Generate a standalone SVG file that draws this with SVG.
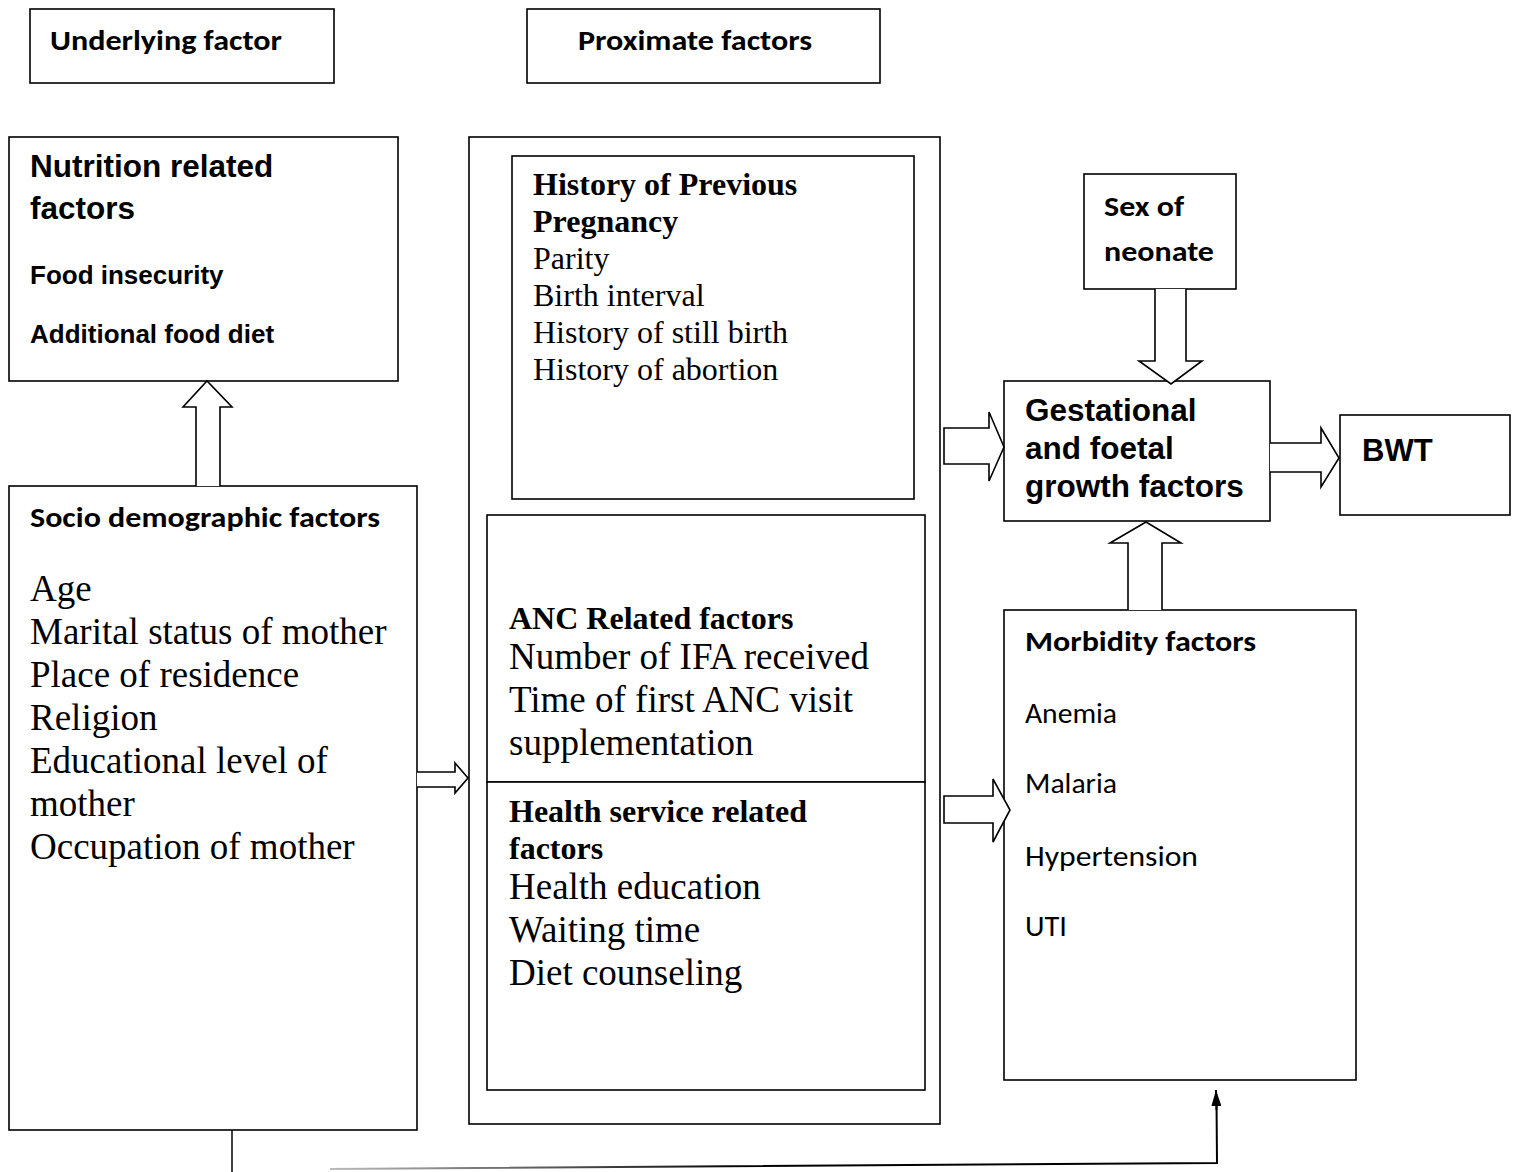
<svg xmlns="http://www.w3.org/2000/svg" width="1518" height="1172" viewBox="0 0 1518 1172">
<style>
.box{fill:#fff;stroke:#000;stroke-width:1.6}
.arr{fill:#fff;stroke:#000;stroke-width:1.6;stroke-linejoin:miter}
.cal{font-family:Carlito,Lato,"Open Sans",sans-serif;font-weight:bold;font-size:29px;fill:#000}
.calr{font-family:Carlito,Lato,"Open Sans",sans-serif;font-size:29px;fill:#000}
.ar{font-family:"Liberation Sans",Arial,sans-serif;font-weight:bold;fill:#000}
.tb{font-family:"Liberation Serif","Times New Roman",serif;font-weight:bold;font-size:32px;fill:#000}
.tr{font-family:"Liberation Serif","Times New Roman",serif;font-size:32px;fill:#000}
.tl{font-family:"Liberation Serif","Times New Roman",serif;font-size:37px;fill:#000}
</style>
<defs>
<marker id="ah" viewBox="0 0 16 10" refX="16" refY="5" markerWidth="16" markerHeight="10" markerUnits="userSpaceOnUse" orient="auto">
<path d="M0,0 L16,5 L0,10 z" fill="#000"/>
</marker>
<linearGradient id="fade" gradientUnits="userSpaceOnUse" x1="330" y1="0" x2="750" y2="0">
<stop offset="0" stop-color="#bbb"/>
<stop offset="1" stop-color="#000"/>
</linearGradient>
</defs>
<rect width="1518" height="1172" fill="#fff"/>

<g id="underlying">
<rect class="box" x="30" y="9" width="304" height="74"/>
<text class="cal" x="50" y="50" textLength="232" lengthAdjust="spacingAndGlyphs">Underlying factor</text>
</g>
<g id="proximate">
<rect class="box" x="527" y="9" width="353" height="74"/>
<text class="cal" x="578" y="50" textLength="234" lengthAdjust="spacingAndGlyphs">Proximate factors</text>
</g>

<g id="nutrition">
<rect class="box" x="9" y="137" width="389" height="244"/>
<text class="ar" x="30" y="177" font-size="31.5">Nutrition related</text>
<text class="ar" x="30" y="219" font-size="31.5">factors</text>
<text class="ar" x="30" y="284" font-size="26">Food insecurity</text>
<text class="ar" x="30" y="343" font-size="26">Additional food diet</text>
</g>

<g id="socio">
<rect class="box" x="9" y="486" width="408" height="644"/>
<text class="cal" x="30" y="527" textLength="350" lengthAdjust="spacingAndGlyphs">Socio demographic factors</text>
<text class="tl" x="30" y="601">Age</text>
<text class="tl" x="30" y="644">Marital status of mother</text>
<text class="tl" x="30" y="687">Place of residence</text>
<text class="tl" x="30" y="730">Religion</text>
<text class="tl" x="30" y="773">Educational level of</text>
<text class="tl" x="30" y="816">mother</text>
<text class="tl" x="30" y="859">Occupation of mother</text>
</g>

<g id="proximate-group">
<rect class="box" x="469" y="137" width="471" height="987"/>
</g>

<g id="history">
<rect class="box" x="512" y="156" width="402" height="343"/>
<text class="tb" x="533" y="195">History of Previous</text>
<text class="tb" x="533" y="232">Pregnancy</text>
<text class="tr" x="533" y="269">Parity</text>
<text class="tr" x="533" y="306">Birth interval</text>
<text class="tr" x="533" y="343">History of still birth</text>
<text class="tr" x="533" y="380">History of abortion</text>
</g>

<g id="anc">
<rect class="box" x="487" y="515" width="438" height="267"/>
<text class="tb" x="509" y="629">ANC Related factors</text>
<text class="tl" x="509" y="669">Number of IFA received</text>
<text class="tl" x="509" y="712">Time of first ANC visit</text>
<text class="tl" x="509" y="755">supplementation</text>
</g>

<g id="health-service">
<rect class="box" x="487" y="782" width="438" height="308"/>
<text class="tb" x="509" y="822">Health service related</text>
<text class="tb" x="509" y="859">factors</text>
<text class="tl" x="509" y="899">Health education</text>
<text class="tl" x="509" y="942">Waiting time</text>
<text class="tl" x="509" y="985">Diet counseling</text>
</g>

<g id="sex">
<rect class="box" x="1084" y="174" width="152" height="115"/>
<text class="cal" x="1104" y="216" textLength="80" lengthAdjust="spacingAndGlyphs">Sex of</text>
<text class="cal" x="1104" y="261" textLength="110" lengthAdjust="spacingAndGlyphs">neonate</text>
</g>

<g id="gestational">
<rect class="box" x="1004" y="381" width="266" height="140"/>
<text class="ar" x="1025" y="421" font-size="31.5">Gestational</text>
<text class="ar" x="1025" y="459" font-size="31.5">and foetal</text>
<text class="ar" x="1025" y="497" font-size="31.5">growth factors</text>
</g>

<g id="bwt">
<rect class="box" x="1340" y="415" width="170" height="100"/>
<text class="ar" x="1362" y="461" font-size="31">BWT</text>
</g>

<g id="morbidity">
<rect class="box" x="1004" y="610" width="352" height="470"/>
<text class="cal" x="1025" y="651" textLength="231" lengthAdjust="spacingAndGlyphs">Morbidity factors</text>
<text class="calr" x="1025" y="723" textLength="92" lengthAdjust="spacingAndGlyphs">Anemia</text>
<text class="calr" x="1025" y="793" textLength="92" lengthAdjust="spacingAndGlyphs">Malaria</text>
<text class="calr" x="1025" y="866" textLength="173" lengthAdjust="spacingAndGlyphs">Hypertension</text>
<text class="calr" x="1025" y="936" textLength="42" lengthAdjust="spacingAndGlyphs">UTI</text>
</g>

<g id="connectors">
<path class="arr" d="M196,486 L196,407 L183,407 L207,381 L232,407 L220,407 L220,486"/>
<path class="arr" d="M417,772 L455,772 L455,763 L468,778 L455,793 L455,787 L417,787"/>
<path class="arr" d="M944,428 L989,428 L989,412 L1004,447 L989,481 L989,464 L944,464 Z"/>
<path class="arr" d="M1270,443 L1321,443 L1321,428 L1339,458 L1321,487 L1321,472 L1270,472"/>
<path class="arr" d="M1155,289 L1155,361 L1139,361 L1171,384 L1202,361 L1186,361 L1186,289"/>
<path class="arr" d="M1128,610 L1128,543 L1110,543 L1146,522 L1181,543 L1162,543 L1162,610"/>
<path class="arr" d="M944,796 L993,796 L993,779 L1010,810 L993,842 L993,823 L944,823 Z"/>
<line x1="232" y1="1130" x2="232" y2="1172" stroke="#000" stroke-width="1.5"/>
<polyline points="330,1169 1217,1163 1216.5,1100" fill="none" stroke="url(#fade)" stroke-width="2"/>
<line x1="1216.5" y1="1110" x2="1216" y2="1090" stroke="#000" stroke-width="2" marker-end="url(#ah)"/>
</g>
</svg>
